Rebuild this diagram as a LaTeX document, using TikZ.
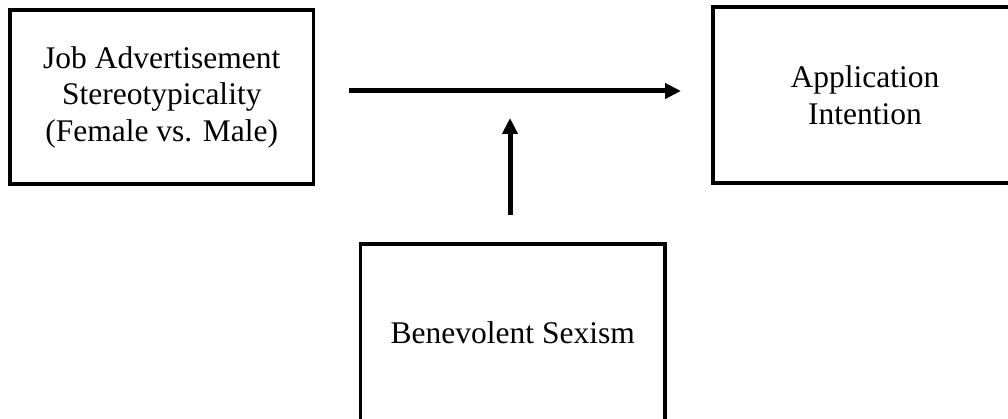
\documentclass[tikz,border=0pt]{standalone}
\usepackage{fontspec}
\setmainfont{Liberation Serif}
\usetikzlibrary{arrows.meta}
\tikzset{
  box/.style={draw=black, line width=3.8pt, inner sep=0pt, outer sep=0pt,
    minimum width=304pt, minimum height=176pt, align=center,
    font=\fontsize{31.5pt}{36.5pt}\selectfont},
  conn/.style={line width=5pt, -{Triangle[length=16pt,width=15pt]}}
}
\begin{document}
\begin{tikzpicture}[x=1pt,y=-1pt]
\useasboundingbox (0,0) rectangle (1008,419);
\node[box, minimum width=303.5pt, minimum height=174pt] (job) at (161.75,97) {Job Advertisement\\Stereotypicality\\(Female vs. Male)};
\node[box] (app) at (865,95) {Application\\Intention};
\node[box, minimum width=304.5pt, minimum height=177pt] (sex) at (512.75,332.5) {Benevolent Sexism};
\coordinate (hs) at (349,91);
\coordinate (he) at (681,91);
\coordinate (vs) at (510,215);
\coordinate (ve) at (510,118);
\draw[conn] (hs) -- (he);
\draw[conn] (vs) -- (ve);
\end{tikzpicture}
\end{document}
